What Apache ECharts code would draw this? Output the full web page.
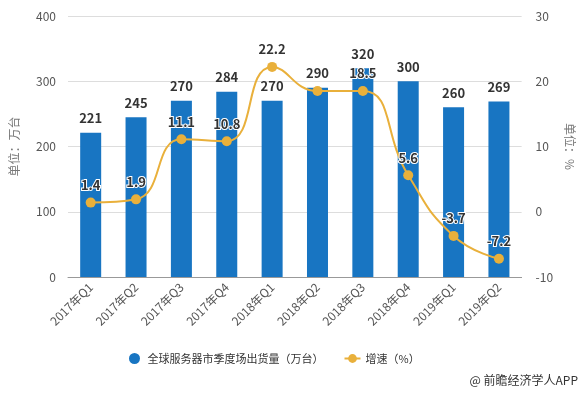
<!DOCTYPE html>
<html><head><meta charset="utf-8">
<script src="https://cdn.jsdelivr.net/npm/echarts@6/dist/echarts.min.js"></script>
<style>html,body{margin:0;padding:0;background:#fff}#c{width:584px;height:393px}</style>
</head><body><div id="c"></div>
<script>
const categories = ['2017年Q1','2017年Q2','2017年Q3','2017年Q4','2018年Q1','2018年Q2','2018年Q3','2018年Q4','2019年Q1','2019年Q2'];
const shipments = [221,245,270,284,270,290,320,300,260,269];
const growth = [1.4,1.9,11.1,10.8,22.2,18.5,18.5,5.6,-3.7,-7.2];
const hiddenGrowthLabels = [5];
const leftTicks = {min:0,max:400,interval:100};
const rightTicks = {min:-10,max:30,interval:10};

const chart = echarts.init(document.getElementById('c'));
const font = '"Microsoft YaHei","Noto Sans CJK SC",sans-serif';
chart.setOption({
  animation:false,
  textStyle:{fontFamily:font},
  grid:{left:65,right:61,top:16,bottom:116},
  legend:{
    bottom:24,left:124,itemGap:20,
    textStyle:{fontSize:11,color:'#333',fontFamily:font},
    data:[{name:'全球服务器市季度场出货量（万台）',icon:'circle'},{name:'增速（%）'}],
    itemWidth:16,itemHeight:11
  },
  xAxis:{type:'category',data:categories,
    axisLine:{lineStyle:{color:'#999'}},axisTick:{show:false},
    axisLabel:{rotate:45,color:'#555',fontSize:12,interval:0,margin:8}},
  yAxis:[
    {type:'value',min:leftTicks.min,max:leftTicks.max,interval:leftTicks.interval,
     name:'单位：万台',nameLocation:'middle',nameGap:48,nameRotate:90,
     nameTextStyle:{color:'#777',fontSize:12},
     axisLine:{show:false},axisTick:{show:false},
     axisLabel:{color:'#555',fontSize:12,margin:12},
     splitLine:{lineStyle:{color:'#ddd'}}},
    {type:'value',min:rightTicks.min,max:rightTicks.max,interval:rightTicks.interval,
     name:'单位：%',nameLocation:'middle',nameGap:36,nameRotate:-90,
     nameTextStyle:{color:'#777',fontSize:12},
     axisLine:{show:false},axisTick:{show:false},
     axisLabel:{color:'#555',fontSize:12,margin:14},
     splitLine:{show:false}}
  ],
  series:[
    {name:'全球服务器市季度场出货量（万台）',type:'bar',data:shipments,barWidth:21,
     itemStyle:{color:'#1875c2'},
     label:{show:true,position:'top',color:'#333',fontWeight:'bold',fontSize:13,distance:8}},
    {name:'增速（%）',type:'line',yAxisIndex:1,smooth:true,
     data:growth.map((v,i)=>hiddenGrowthLabels.includes(i)?{value:v,label:{show:false}}:v),
     symbol:'circle',symbolSize:10,
     lineStyle:{color:'#e9b03b',width:2},itemStyle:{color:'#e9b03b'},
     label:{show:true,position:'top',color:'#333',fontWeight:'bold',fontSize:13,
       textBorderColor:'#fff',textBorderWidth:2,distance:6}}
  ],
  graphic:[{type:'text',right:6,bottom:7,style:{text:'@ 前瞻经济学人APP',fill:'#333',fontSize:12,fontFamily:font}}]
});
</script></body></html>
